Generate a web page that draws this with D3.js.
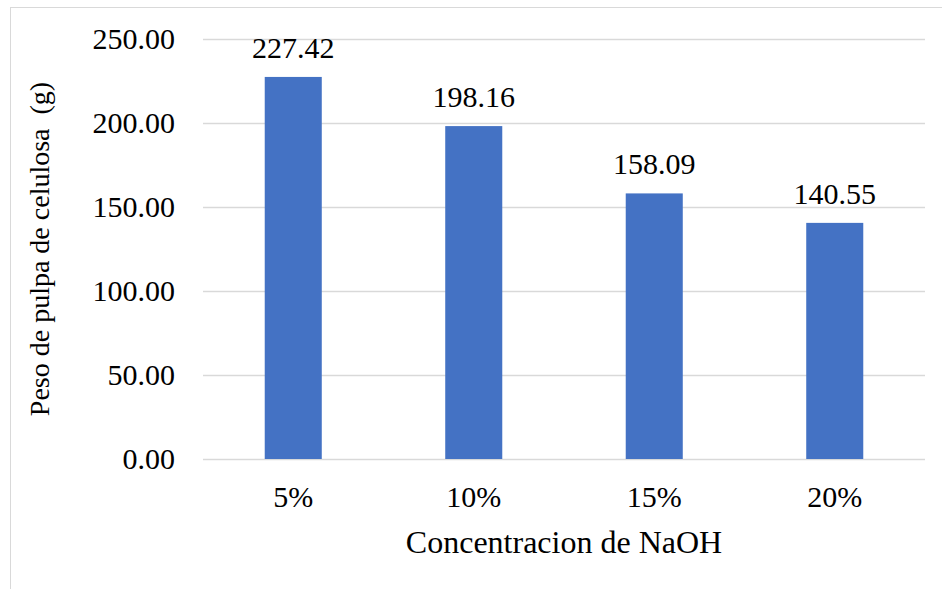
<!DOCTYPE html>
<html><head><meta charset="utf-8">
<script src="https://cdn.jsdelivr.net/npm/d3@7"></script>
<style>body{margin:0;background:#fff}svg{display:block}svg text{font-family:"Times New Roman","Liberation Serif",Tinos,"DejaVu Serif",serif !important;fill:#000}</style>
</head><body><svg id="c" width="942" height="589"></svg>
<script>
const categories = ["5%", "10%", "15%", "20%"];
const values = [227.42, 198.16, 158.09, 140.55];
const yTicks = [0, 50, 100, 150, 200, 250];

const svg = d3.select("#c");
const m = {l: 203, r: 925, t: 39, b: 459};
svg.append("rect").attr("x", 10.5).attr("y", 7.5).attr("width", 940).attr("height", 590)
  .attr("fill", "none").attr("stroke", "#d9d9d9");

const x = d3.scaleBand().domain(categories).range([m.l, m.r]).paddingInner(0.684).paddingOuter(0.342);
const y = d3.scaleLinear().domain([0, 250]).range([m.b, m.t]);

const gy = svg.append("g").attr("transform", `translate(${m.l},0)`)
  .call(d3.axisLeft(y).tickValues(yTicks).tickFormat(d3.format(".2f")).tickSize(-(m.r - m.l)).tickPadding(28));
gy.select(".domain").remove();
gy.attr("font-family", null);
gy.selectAll(".tick line").attr("stroke", "#d9d9d9").attr("stroke-width", 1.3);
gy.selectAll(".tick text").attr("font-size", 30).attr("fill", "#000");

svg.append("g").selectAll("rect").data(values).join("rect")
  .attr("x", (d, i) => x(categories[i])).attr("width", x.bandwidth())
  .attr("y", d => y(d)).attr("height", d => y(0) - y(d)).attr("fill", "#4472c4");

svg.append("g").selectAll("text").data(values).join("text")
  .attr("x", (d, i) => x(categories[i]) + x.bandwidth() / 2).attr("y", d => y(d) - 19)
  .attr("text-anchor", "middle").attr("font-size", 30).text(d => d.toFixed(2));

const gx = svg.append("g").attr("transform", `translate(0,${m.b})`)
  .call(d3.axisBottom(x).tickSize(0).tickPadding(0));
gx.select(".domain").remove();
gx.attr("font-family", null);
gx.selectAll(".tick text").attr("font-size", 30).attr("fill", "#000").attr("dy", 0).attr("y", 48);

svg.append("text").attr("x", (m.l + m.r) / 2).attr("y", 553).attr("text-anchor", "middle")
  .attr("font-size", 32).text("Concentracion de NaOH");
svg.append("text").attr("transform", `translate(49,${(m.t + m.b) / 2}) rotate(-90)`)
  .attr("text-anchor", "middle").attr("font-size", 28).style("white-space", "pre")
  .text("Peso de pulpa de celulosa  (g)");
</script></body></html>
